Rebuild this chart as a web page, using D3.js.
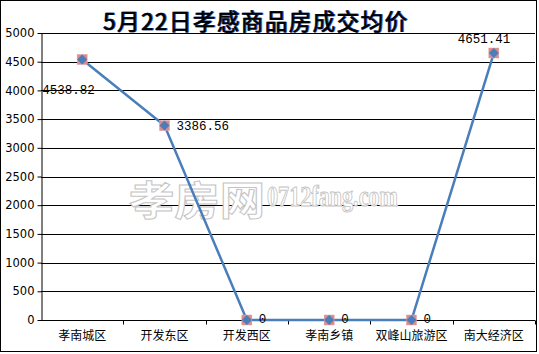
<!DOCTYPE html>
<html><head><meta charset="utf-8">
<script src="https://cdn.jsdelivr.net/npm/d3@7"></script>
<style>body{margin:0;background:#fff}svg{display:block}</style>
</head><body>
<svg id="c" width="539" height="354"></svg>
<script>
const title = "5月22日孝感商品房成交均价";
const categories = ["孝南城区","开发东区","开发西区","孝南乡镇","双峰山旅游区","南大经济区"];
const values = [4538.82, 3386.56, 0, 0, 0, 4651.41];
const labels = ["4538.82","3386.56","0","0","0","4651.41"];
const yTicks = [0,500,1000,1500,2000,2500,3000,3500,4000,4500,5000];

const svg = d3.select("#c");
const L = 41, R = 535, T = 33, B = 320;
const x = d3.scaleBand().domain(categories).range([L, R]);
const y = d3.scaleLinear().domain([0, 5000]).range([B, T]);

svg.append("rect").attr("x",0.5).attr("y",0.5).attr("width",536).attr("height",351)
  .attr("fill","#fff").attr("stroke","#000");

// gridlines
svg.append("g").selectAll("line").data(yTicks.filter(d=>d>0)).join("line")
  .attr("x1",L).attr("x2",R).attr("y1",d=>Math.round(y(d))+0.5).attr("y2",d=>Math.round(y(d))+0.5)
  .attr("stroke","#000").attr("stroke-width",1);

// watermark
const wm = svg.append("g").attr("fill","#fff").attr("stroke","#c4c4c4").attr("stroke-width",1);
wm.append("text").attr("x",129).attr("y",215).attr("font-family","Noto Sans CJK SC").attr("font-size",40)
  .attr("font-weight","bold").attr("textLength",136).attr("lengthAdjust","spacingAndGlyphs").text("孝房网");
wm.append("text").attr("x",267).attr("y",206).attr("font-family","Liberation Serif").attr("font-size",29)
  .attr("font-weight","bold").attr("textLength",131).attr("lengthAdjust","spacingAndGlyphs").text("0712fang.com");

// y axis
const ya = svg.append("g").attr("transform",`translate(${L+0.5},0)`)
  .call(d3.axisLeft(y).tickValues(yTicks).tickSize(4).tickSizeOuter(0).tickPadding(3).tickFormat(d3.format("d")));
ya.select(".domain").attr("stroke","#000");
ya.selectAll(".tick line").attr("stroke","#000");
ya.selectAll(".tick text").attr("font-family","DejaVu Sans").attr("font-size",11.5).attr("fill","#000");

// x axis
const xa = svg.append("g").attr("transform",`translate(0,${Math.round(y(0))+0.5})`)
  .call(d3.axisBottom(x).tickSize(0).tickPadding(11));
xa.select(".domain").attr("stroke","#000").attr("d",`M${L},0H${R}`);
xa.selectAll(".tick text").attr("font-family","Noto Sans CJK SC").attr("font-size",12).attr("fill","#000");
xa.append("g").selectAll("line").data(categories.map((c,i)=>x(c)).concat([R]).slice(1)).join("line")
  .attr("x1",d=>Math.round(d)+0.5).attr("x2",d=>Math.round(d)+0.5).attr("y1",0).attr("y2",4).attr("stroke","#000");

// line
const pts = categories.map((c,i)=>[x(c)+x.bandwidth()/2, y(values[i])]);
svg.append("path").datum(pts).attr("d",d3.line()).attr("fill","none")
  .attr("stroke","#4a7ebb").attr("stroke-width",2.5);

// markers
const mk = svg.append("g").selectAll("g").data(pts).join("g").attr("transform",d=>`translate(${d[0]},${d[1]})`);
mk.append("rect").attr("x",-5).attr("y",-5).attr("width",10).attr("height",10).attr("fill","#dc8a8c").attr("stroke","#e0a0a0").attr("stroke-width",0.5);
mk.append("path").attr("d","M0,-5L5,0L0,5L-5,0Z").attr("fill","#4a7ebb");

// labels
const lblPos = [[-40,35,"start"],[12,4,"start"],[12,3,"start"],[12,3,"start"],[12,3,"start"],[-36,-10,"start"]];
svg.append("g").selectAll("text").data(pts).join("text")
  .attr("x",(d,i)=>d[0]+lblPos[i][0]).attr("y",(d,i)=>d[1]+lblPos[i][1])
  .attr("font-family","Liberation Mono").attr("font-size",12.5).attr("fill","#000")
  .text((d,i)=>labels[i]);

// title
const tg = svg.append("g").attr("font-family","Noto Sans CJK SC").attr("font-size",22.5);
tg.append("text").attr("x",104).attr("y",30).attr("fill","#2a5bd0").attr("stroke","#2a5bd0").attr("stroke-width",0.5)
  .attr("textLength",304).attr("lengthAdjust","spacing").text(title);
tg.append("text").attr("x",103).attr("y",29.5).attr("fill","#000").attr("stroke","#000").attr("stroke-width",0.6)
  .attr("textLength",304).attr("lengthAdjust","spacing").text(title);
</script>
</body></html>
